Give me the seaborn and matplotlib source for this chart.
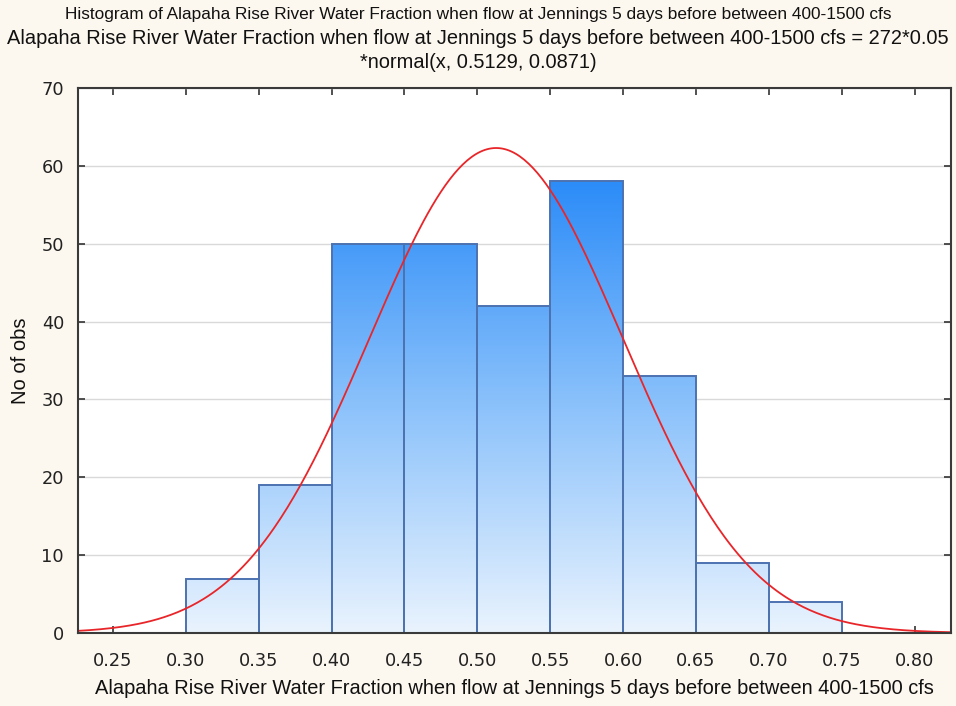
import numpy as np
import pandas as pd
import matplotlib
matplotlib.use("Agg")
import matplotlib.pyplot as plt
from matplotlib.colors import LinearSegmentedColormap
import seaborn as sns

# ---- data ----
bin_edges = [0.30, 0.35, 0.40, 0.45, 0.50, 0.55, 0.60, 0.65, 0.70, 0.75]
counts = [7, 19, 50, 50, 42, 58, 33, 9, 4]
n_obs = 272
bin_width = 0.05
fit_mean = 0.5129
fit_sd = 0.0871
x_ticks = [0.25, 0.30, 0.35, 0.40, 0.45, 0.50, 0.55, 0.60, 0.65, 0.70, 0.75, 0.80]
y_ticks = [0, 10, 20, 30, 40, 50, 60, 70]

title1 = "Histogram of Alapaha Rise River Water Fraction when flow at Jennings 5 days before between 400-1500 cfs"
title2 = "Alapaha Rise River Water Fraction when flow at Jennings 5 days before between 400-1500 cfs = 272*0.05"
title3 = "*normal(x, 0.5129, 0.0871)"
xlabel = "Alapaha Rise River Water Fraction when flow at Jennings 5 days before between 400-1500 cfs"
ylabel = "No of obs"

sns.set_theme(style="white")
plt.rcParams['font.family'] = ['Liberation Sans', 'DejaVu Sans']

bg = '#fdf8ef'
fig = plt.figure(figsize=(9.56, 7.06), dpi=100, facecolor=bg)
ax = fig.add_axes([78/956, 1-633/706, (951-78)/956, (633-88)/706])
ax.set_facecolor('white')

centers = [(a + b) / 2 for a, b in zip(bin_edges[:-1], bin_edges[1:])]
df = pd.DataFrame({"x": centers, "w": counts})
sns.histplot(data=df, x="x", weights="w", bins=bin_edges, fill=False,
             element="bars", edgecolor='#1d4ca6', linewidth=1.4, ax=ax, zorder=3)

cmap = LinearSegmentedColormap.from_list("g", ['#e9f3fe', '#8cc2fb', '#2c8cf8'])
vmax = 58
for p in list(ax.patches):
    x0 = p.get_x(); w = p.get_width(); h = p.get_height()
    grad = np.linspace(0, h, 256)[:, None]
    im = ax.imshow(grad, extent=[x0, x0 + w, 0, h], origin='lower', aspect='auto',
                   cmap=cmap, vmin=0, vmax=vmax, zorder=2, interpolation='bilinear')
    im.set_clip_path(p)

xs = np.linspace(0.225, 0.826, 400)
ys = n_obs * bin_width * np.exp(-0.5 * ((xs - fit_mean) / fit_sd) ** 2) / (fit_sd * np.sqrt(2 * np.pi))
sns.lineplot(x=xs, y=ys, color='#e8262a', linewidth=1.3, ax=ax, zorder=4)

ax.set_xlim(0.226, 0.825)
ax.set_ylim(0, 70)
ax.set_xticks(x_ticks)
ax.set_xticklabels([f"{t:.2f}" for t in x_ticks], fontfamily='DejaVu Sans', fontsize=12.8, color='#222222')
ax.set_yticks(y_ticks)
ax.set_yticklabels([str(t) for t in y_ticks], fontfamily='DejaVu Sans', fontsize=12.8, color='#222222')
ax.yaxis.grid(True, color='#d9d9d9', linewidth=1.0, zorder=0)
ax.set_axisbelow(True)
ax.tick_params(direction='in', length=5, width=1.2, color='#333333', top=True, right=True,
               bottom=True, left=True)
ax.tick_params(axis='x', pad=14)
ax.tick_params(axis='y', pad=10)
for s in ax.spines.values():
    s.set_visible(True)
    s.set_color('#3a3a3a')
    s.set_linewidth(1.5)
    s.set_zorder(6)

ax.set_xlabel(xlabel, fontsize=14.4, color='#111111', labelpad=6)
ax.set_ylabel(ylabel, fontsize=14.5, color='#111111', labelpad=8)

fig.text(478/956, 1-15/706, title1, ha='center', va='center', fontsize=12.4, color='#111111')
fig.text(478/956, 1-39/706, title2, ha='center', va='center', fontsize=14.45, color='#111111')
fig.text(478/956, 1-62/706, title3, ha='center', va='center', fontsize=14.45, color='#111111')

fig.savefig("out.png", dpi=100, facecolor=bg)
